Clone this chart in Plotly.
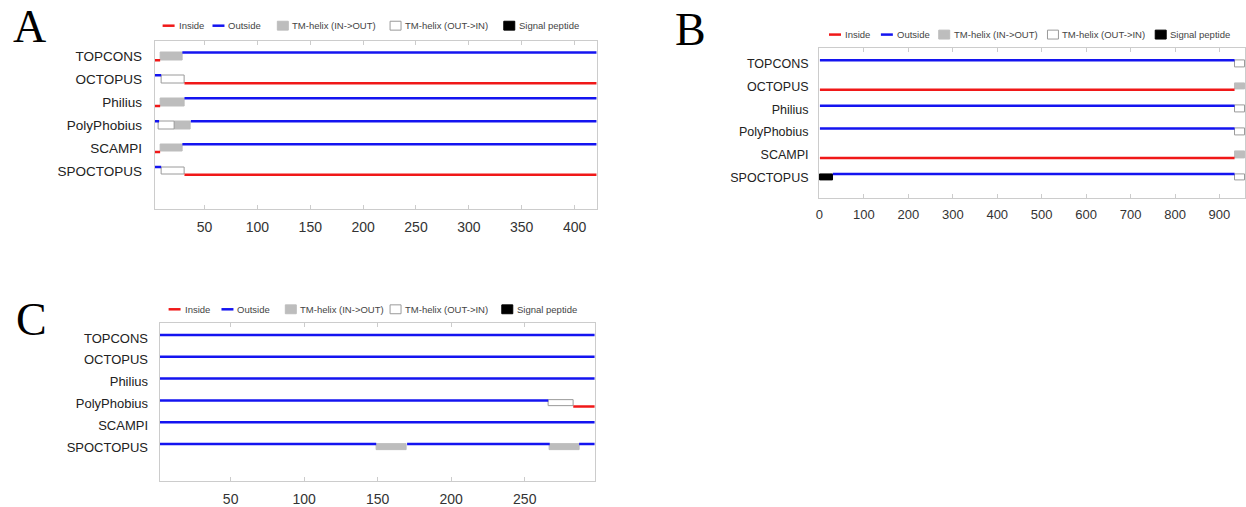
import plotly.graph_objects as go

W, H = 1246, 507

predictors = ["TOPCONS", "OCTOPUS", "Philius", "PolyPhobius", "SCAMPI", "SPOCTOPUS"]

# kinds: "in" = Inside, "out" = Outside, "io" = TM-helix (IN->OUT),
#        "oi" = TM-helix (OUT->IN), "sp" = Signal peptide
segments_A = [
    [("in", 1, 8), ("io", 8, 29), ("out", 29, 421)],
    [("out", 1, 9), ("oi", 9, 31), ("in", 31, 421)],
    [("in", 1, 8), ("io", 8, 31), ("out", 31, 421)],
    [("out", 1, 7), ("oi", 7, 22), ("io", 22, 37), ("out", 37, 421)],
    [("in", 1, 8), ("io", 8, 29), ("out", 29, 421)],
    [("out", 1, 9), ("oi", 9, 31), ("in", 31, 421)],
]
segments_B = [
    [("out", 1, 934), ("oi", 934, 958)],
    [("in", 1, 934), ("io", 934, 958)],
    [("out", 1, 934), ("oi", 934, 958)],
    [("out", 1, 934), ("oi", 934, 958)],
    [("in", 1, 934), ("io", 934, 958)],
    [("sp", 1, 30), ("out", 30, 934), ("oi", 934, 958)],
]
segments_C = [
    [("out", 1, 298)],
    [("out", 1, 298)],
    [("out", 1, 298)],
    [("out", 1, 266), ("oi", 266, 283), ("in", 283, 298)],
    [("out", 1, 298)],
    [("out", 1, 149), ("io", 149, 170), ("out", 170, 267), ("io", 267, 287), ("out", 287, 298)],
]

ticks_A = [50, 100, 150, 200, 250, 300, 350, 400]
ticks_B = [0, 100, 200, 300, 400, 500, 600, 700, 800, 900]
ticks_C = [50, 100, 150, 200, 250]

legend_labels = ["Inside", "Outside", "TM-helix (IN->OUT)", "TM-helix (OUT->IN)", "Signal peptide"]
legend_kinds = ["in", "out", "io", "oi", "sp"]

# ---------------- styles / layout ----------------
LINE_COL = {"in": "#f01818", "out": "#1414f0"}
BOX_FILL = {"io": "#bdbdbd", "oi": "#ffffff", "sp": "#000000"}
BOX_LINE = {"io": "#bdbdbd", "oi": "#9a9a9a", "sp": "#000000"}
FRAME = "#cccccc"


def px_x(p):
    return p / W


def px_y(p):
    return 1 - p / H


panels = [
    dict(seg=segments_A, ticks=ticks_A, xr=[2.8, 420.8], box=(152, 595, 41, 212),
         yr=[6.68, -0.69], off=0.17, tf=14, lf=13.5, lstand=9,
         leg_y=26, leg_x=[160, 210, 275, 388, 502], letter="A", letter_xy=(27, 27)),
    dict(seg=segments_B, ticks=ticks_B, xr=[-1, 957.5], box=(818, 1245, 49, 200),
         yr=[5.89, -0.67], off=0.15, tf=13, lf=12.5, lstand=7,
         leg_y=35, leg_x=[828, 880, 938, 1047, 1155], letter="B", letter_xy=(689, 30)),
    dict(seg=segments_C, ticks=ticks_C, xr=[1.7, 297.5], box=(157, 593, 327, 487),
         yr=[6.56, -0.68], off=0.14, tf=14, lf=13, lstand=8,
         leg_y=313, leg_x=[166, 219, 283, 388, 500], letter="C", letter_xy=(29, 323)),
]

fig = go.Figure()
layout = dict(width=W, height=H, margin=dict(l=0, r=0, t=0, b=0),
              paper_bgcolor="white", plot_bgcolor="white", showlegend=False,
              barmode="overlay", bargap=0)
shapes = []
annotations = []

for k, P in enumerate(panels, start=1):
    xa = "x" if k == 1 else f"x{k}"
    ya = "y" if k == 1 else f"y{k}"
    off = P["off"]
    # lines
    for kind in ("in", "out"):
        xs, ys = [], []
        for r, row in enumerate(P["seg"]):
            for (kd, s, e) in row:
                if kd == kind:
                    yv = r + off if kind == "in" else r - off
                    xs += [s, e, None]
                    ys += [yv, yv, None]
        if xs:
            fig.add_trace(go.Scatter(x=xs, y=ys, mode="lines", xaxis=xa, yaxis=ya,
                                     line=dict(color=LINE_COL[kind], width=2.5),
                                     hoverinfo="skip"))
    # boxes
    for kind in ("io", "oi", "sp"):
        bases, lens, ys = [], [], []
        for r, row in enumerate(P["seg"]):
            for (kd, s, e) in row:
                if kd == kind:
                    bases.append(s)
                    lens.append(e - s)
                    ys.append(r)
        if bases:
            fig.add_trace(go.Bar(orientation="h", base=bases, x=lens, y=ys,
                                 width=2 * off, xaxis=xa, yaxis=ya,
                                 marker=dict(color=BOX_FILL[kind],
                                             line=dict(color=BOX_LINE[kind], width=1)),
                                 hoverinfo="skip"))

    x0, x1, y0, y1 = P["box"]
    xkey = "xaxis" if k == 1 else f"xaxis{k}"
    ykey = "yaxis" if k == 1 else f"yaxis{k}"
    layout[xkey] = dict(domain=[px_x(x0), px_x(x1)], anchor=ya, range=P["xr"],
                        tickvals=P["ticks"], ticks="inside", ticklen=4, tickcolor=FRAME,
                        showline=True, linecolor=FRAME, linewidth=1, mirror="ticks",
                        showgrid=False, zeroline=False, ticklabelstandoff=5,
                        tickfont=dict(family="Liberation Sans, Arial", size=P["tf"], color="#333333"))
    layout[ykey] = dict(domain=[px_y(y1), px_y(y0)], anchor=xa, range=P["yr"],
                        tickvals=list(range(len(predictors))), ticktext=predictors,
                        ticks="", showline=True, linecolor=FRAME, linewidth=1, mirror=True,
                        showgrid=False, zeroline=False, ticklabelstandoff=P["lstand"],
                        tickfont=dict(family="Liberation Sans, Arial", size=P["lf"], color="#222222"))

    # legend (drawn manually)
    ly = P["leg_y"]
    for kind, lx, label in zip(legend_kinds, P["leg_x"], legend_labels):
        if kind in ("in", "out"):
            shapes.append(dict(type="line", xref="paper", yref="paper",
                               x0=px_x(lx), x1=px_x(lx + 12), y0=px_y(ly), y1=px_y(ly),
                               line=dict(color=LINE_COL[kind], width=2.5)))
            tx = lx + 14
        else:
            shapes.append(dict(type="rect", xref="paper", yref="paper",
                               x0=px_x(lx), x1=px_x(lx + 11), y0=px_y(ly + 4.5), y1=px_y(ly - 4.5),
                               fillcolor=BOX_FILL[kind],
                               line=dict(color=BOX_LINE[kind], width=1)))
            tx = lx + 13
        annotations.append(dict(xref="paper", yref="paper", x=px_x(tx), y=px_y(ly),
                                xanchor="left", yanchor="middle", showarrow=False,
                                text=label,
                                font=dict(family="Liberation Sans, Arial", size=9.5, color="#444444")))
    # panel letter
    lx, lyy = P["letter_xy"]
    annotations.append(dict(xref="paper", yref="paper", x=px_x(lx), y=px_y(lyy),
                            xanchor="center", yanchor="middle", showarrow=False,
                            text=P["letter"],
                            font=dict(family="Liberation Serif, Times New Roman", size=46, color="#000000")))

layout["shapes"] = shapes
layout["annotations"] = annotations
fig.update_layout(**layout)
fig.write_html("out.html")
